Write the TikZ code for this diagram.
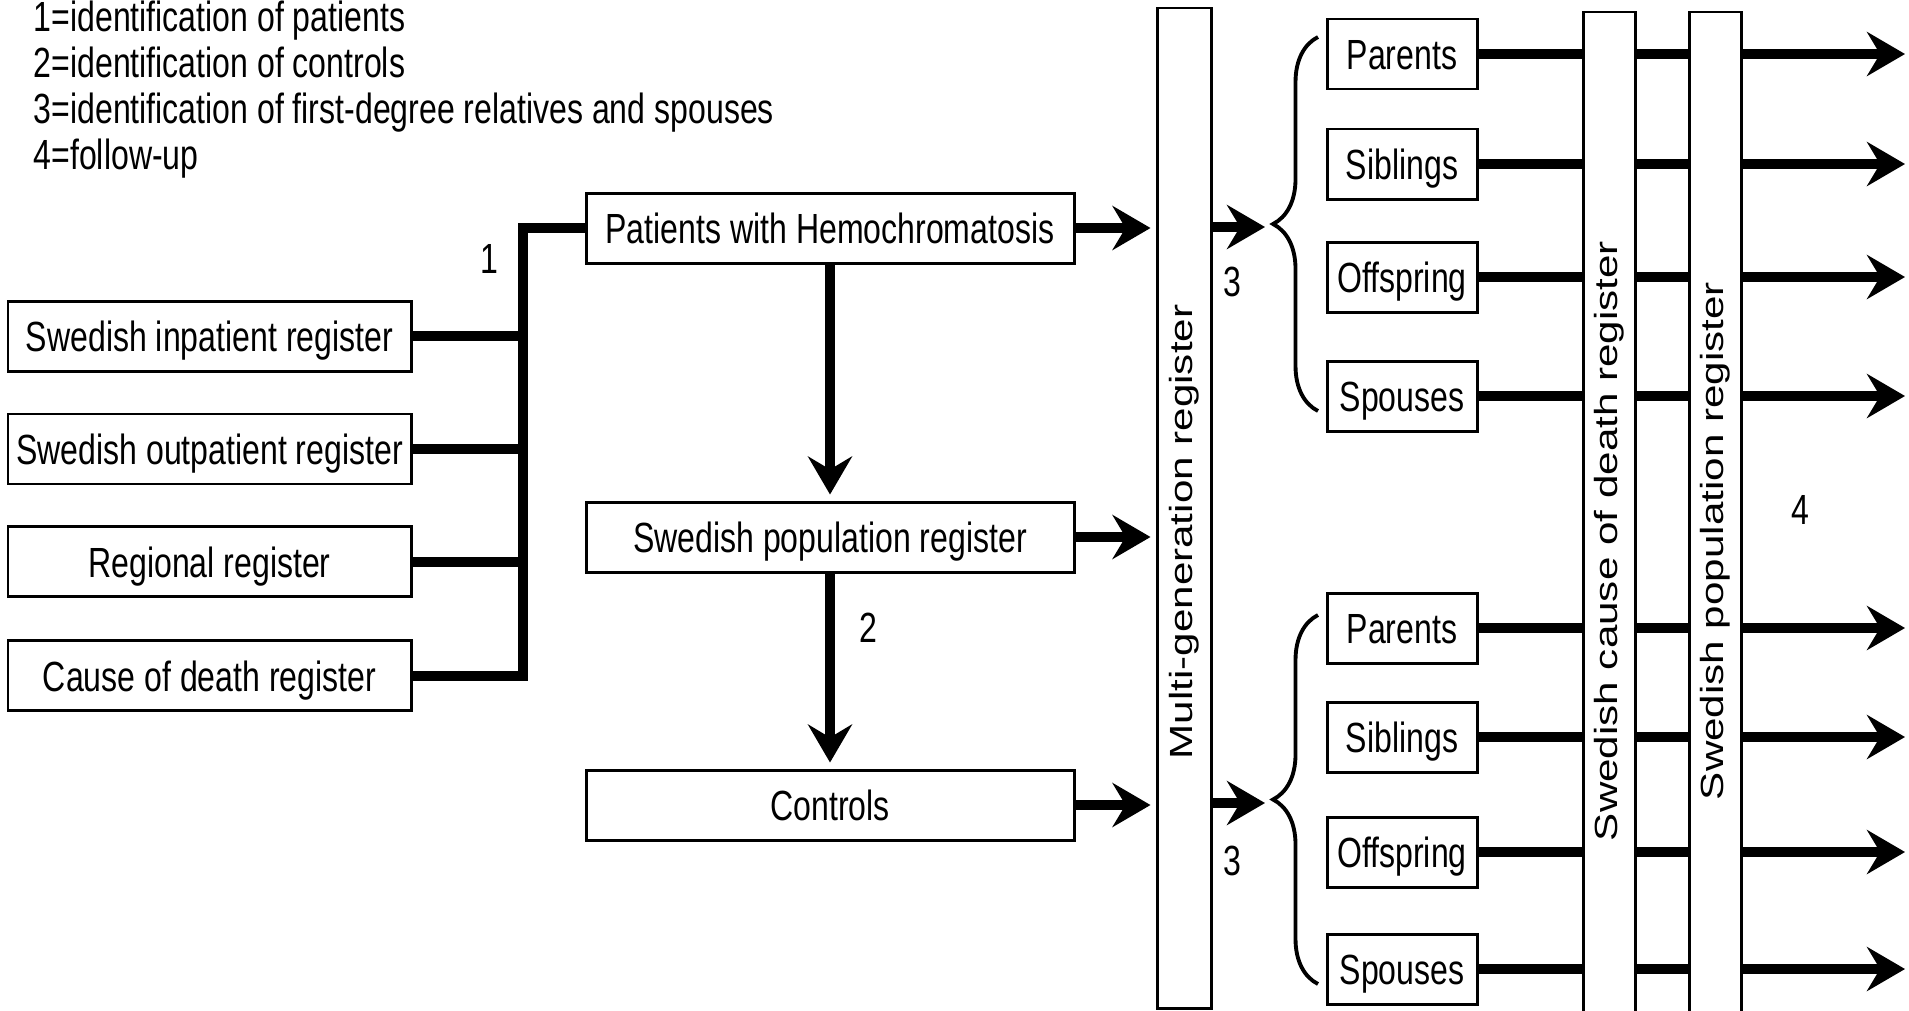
\documentclass[tikz,border=0pt]{standalone}
\usepackage{graphicx}
\usepackage{fontspec}
\setmainfont{Liberation Sans}[FakeStretch=0.76]
\newfontfamily\uprightsans{Liberation Sans}
\usetikzlibrary{arrows.meta,positioning,decorations.pathreplacing}

\tikzset{
	box/.style={draw, line width=0.85pt, fill=white, inner sep=0pt, minimum height=0.70cm, text height=8.6pt, text depth=0pt},
	srcbox/.style={box, minimum width=4.03cm},
	midbox/.style={box, minimum width=4.88cm},
	relbox/.style={box, minimum width=1.50cm},
	vbar/.style={draw, line width=0.85pt, fill=white, inner sep=0pt},
	bar/.style={line width=2.7pt},
	curly/.style={decorate, decoration={brace, amplitude=4.5mm}, line width=1.1pt},
	>={Stealth[length=3.8mm, width=4.4mm, inset=1.3mm]}
}
\newcommand{\sidetext}[1]{\uprightsans\scalebox{1}[0.76]{#1}}

\begin{document}
\begin{tikzpicture}[font=\fontsize{12}{13.1}\selectfont]
\useasboundingbox (0,0) rectangle (19.09,-10.10);

%legend
\node[align=left, anchor=north west, inner sep=0pt] (legend) at (0.33,0)
	{1=identification of patients\\2=identification of controls\\3=identification of first-degree relatives and spouses\\4=follow-up};

%sources
\node[srcbox] (inp) at (2.095,-3.36) {Swedish inpatient register};
\node[srcbox, below=0.40cm of inp] (outp) {Swedish outpatient register};
\node[srcbox, below=0.40cm of outp] (regr) {Regional register};
\node[srcbox, below=0.41cm of regr] (cdr) {Cause of death register};

\node[midbox] (pat) at (8.30,-2.28) {Patients with Hemochromatosis};
\node[midbox] (pop) at (8.30,-5.37) {Swedish population register};
\node[midbox] (ctrl) at (8.30,-8.05) {Controls};

\coordinate (bus) at (5.23,-2.28);
\draw[bar] (pat.west) -- (bus) |- (cdr.east);
\draw[bar] (inp.east) -- (inp.east -| bus);
\draw[bar] (outp.east) -- (outp.east -| bus);
\draw[bar] (regr.east) -- (regr.east -| bus);
\node (one) at (4.89,-2.59) {1};

\path[->, bar, shorten >=0.6mm]
(pat) edge (pop)
(pop) edge (ctrl);
\node (two) at (8.68,-6.28) {2};

%multi-generation
\node[vbar, minimum width=0.54cm, minimum height=10cm] (mgr) at (11.84,-5.08) {};
\node[rotate=90] (mgrtext) at (11.84,-5.32) {\sidetext{Multi-generation register}};

\path[->, bar, shorten >=0.5mm]
(pat) edge (pat -| mgr.west)
(pop) edge (pop -| mgr.west)
(ctrl) edge (ctrl -| mgr.west);

\coordinate (tip1) at (12.65,-2.27);
\coordinate (tip2) at (12.65,-8.03);
\path[->, bar]
(tip1 -| mgr.east) edge (tip1)
(tip2 -| mgr.east) edge (tip2);
\node (three1) at (12.32,-2.82) {3};
\node (three2) at (12.32,-8.61) {3};

\coordinate (br1a) at (13.18,-4.11);
\coordinate (br1b) at (13.18,-0.37);
\coordinate (br2a) at (13.18,-9.84);
\coordinate (br2b) at (13.18,-6.15);
\draw[curly] (br1a) -- (br1b);
\draw[curly] (br2a) -- (br2b);

%relatives
\node[relbox] (par1) at (14.02,-0.54) {Parents};
\node[relbox] (sib1) at (14.02,-1.64) {Siblings};
\node[relbox] (off1) at (14.02,-2.77) {Offspring};
\node[relbox] (sps1) at (14.02,-3.96) {Spouses};
\node[relbox] (par2) at (14.02,-6.28) {Parents};
\node[relbox] (sib2) at (14.02,-7.37) {Siblings};
\node[relbox] (off2) at (14.02,-8.52) {Offspring};
\node[relbox] (sps2) at (14.02,-9.69) {Spouses};

%follow-up
\coordinate (fu) at (19.05,0);
\path[->, bar]
(par1) edge (par1 -| fu)
(sib1) edge (sib1 -| fu)
(off1) edge (off1 -| fu)
(sps1) edge (sps1 -| fu)
(par2) edge (par2 -| fu)
(sib2) edge (sib2 -| fu)
(off2) edge (off2 -| fu)
(sps2) edge (sps2 -| fu);

\node[vbar, minimum width=0.52cm, minimum height=10.58cm] (cdreg) at (16.09,-5.41) {};
\node[rotate=90] (cdregtext) at (cdreg) {\sidetext{Swedish cause of death register}};
\node[vbar, minimum width=0.52cm, minimum height=10.58cm] (popreg) at (17.15,-5.41) {};
\node[rotate=90] (popregtext) at (popreg) {\sidetext{Swedish population register}};
\node (four) at (18.00,-5.10) {4};
\end{tikzpicture}
\end{document}
